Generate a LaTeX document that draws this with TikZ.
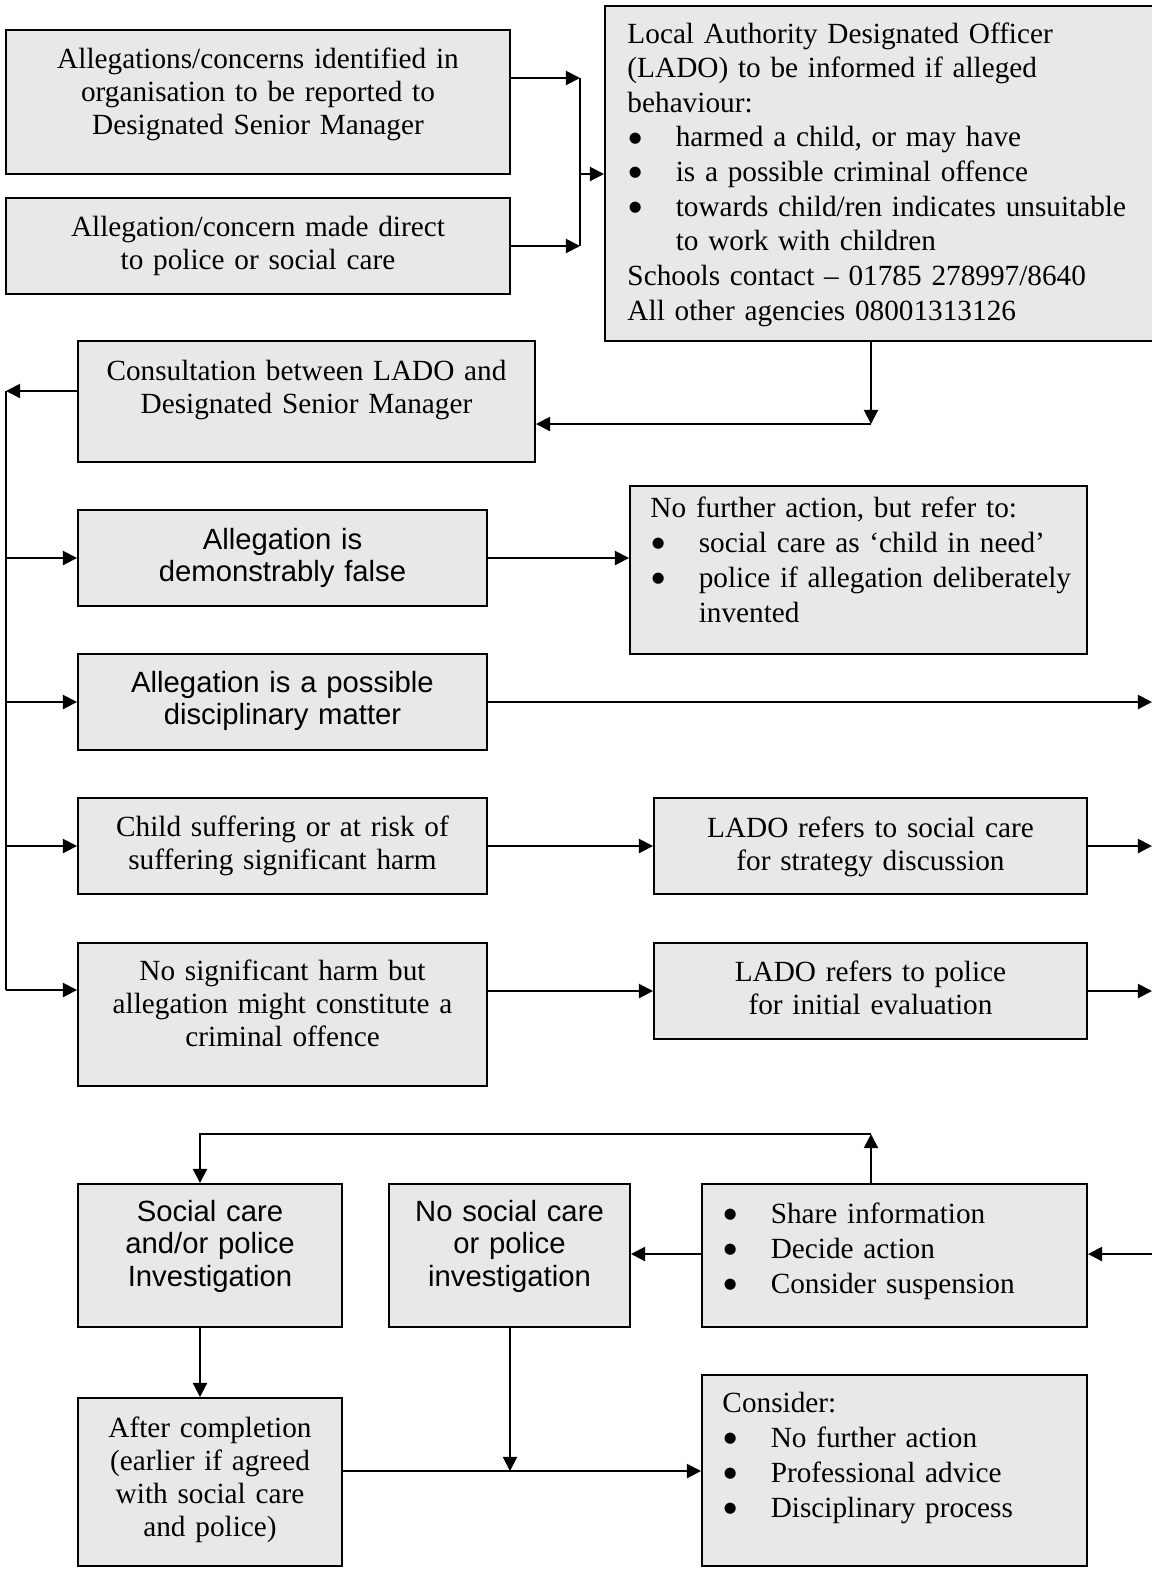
\documentclass[tikz,border=0pt]{standalone}
\usepackage{fontspec}
\setmainfont{Liberation Serif}
\setsansfont{Liberation Sans}
\newfontfamily\dejavu{DejaVu Sans}
\usetikzlibrary{arrows.meta,fit}
\definecolor{boxgray}{RGB}{232,232,232}
\newcommand\bul{\makebox[19.8pt][l]{\hspace*{0.6pt}\raisebox{1.9pt}{\dejavu\fontsize{6pt}{6pt}\selectfont ●}}}
\tikzset{
  box/.style={draw=black, fill=boxgray, line width=0.8pt, inner sep=0pt},
  arr/.style={-{Triangle[length=5.8pt,width=5.8pt]}, line width=0.8pt},
  ln/.style={line width=0.8pt},
  sertxt/.style={font=\fontsize{12pt}{13.6pt}\selectfont, inner sep=0pt, align=center, anchor=base, text width=180pt},
  santxt/.style={font=\sffamily\fontsize{12pt}{13.5pt}\selectfont, inner sep=0pt, align=center, anchor=base, text width=180pt},
  lsttxt/.style={font=\fontsize{12pt}{14.4pt}\selectfont, inner sep=0pt, align=left, anchor=base west, text width=215pt},
}
\begin{document}
\begin{tikzpicture}[x=0.41pt,y=-0.41pt]
\useasboundingbox (0,0) rectangle (1152,1573);
% boxes
\node[box, fit={(6,30)(510,174)}] (a1) {};
\node[box, fit={(6,198)(510,294)}] (a2) {};
\node[box, fit={(605,6)(1162,341)}] (lado) {};
\node[box, fit={(78,341)(535,462)}] (cons) {};
\node[box, fit={(78,510)(487,606)}] (false) {};
\node[box, fit={(630,486)(1087,654)}] (nfa) {};
\node[box, fit={(78,654)(487,750)}] (disc) {};
\node[box, fit={(78,798)(487,894)}] (child) {};
\node[box, fit={(654,798)(1087,894)}] (lsc) {};
\node[box, fit={(78,943)(487,1086)}] (nosig) {};
\node[box, fit={(654,943)(1087,1039)}] (lpol) {};
\node[box, fit={(78,1184)(342,1327)}] (social) {};
\node[box, fit={(389,1184)(630,1327)}] (nosoc) {};
\node[box, fit={(702,1184)(1087,1327)}] (share) {};
\node[box, fit={(78,1398)(342,1566)}] (after) {};
\node[box, fit={(702,1375)(1087,1566)}] (consider) {};
% texts
\node[sertxt] (ta1) at (258,68) {Allegations/concerns identified in\\organisation to be reported to\\Designated Senior Manager};
\node[sertxt] (ta2) at (258,236) {Allegation/concern made direct\\to police or social care};
\node[lsttxt, font=\fontsize{12pt}{14.2pt}\selectfont] (tlado) at (627,43) {Local Authority Designated Officer\\(LADO) to be informed if alleged\\behaviour:\\\bul harmed a child, or may have\\\bul is a possible criminal offence\\\bul towards child/ren indicates unsuitable\\\hspace*{19.8pt}to work with children\\Schools contact – 01785 278997/8640\\All other agencies 08001313126};
\node[sertxt] (tcons) at (306.5,380) {Consultation between LADO and\\Designated Senior Manager};
\node[santxt] (tfalse) at (282.5,549) {Allegation is\\demonstrably false};
\node[lsttxt] (tnfa) at (650,517) {No further action, but refer to:\\\bul social care as ‘child in need’\\\bul police if allegation deliberately\\\hspace*{19.8pt}invented};
\node[santxt] (tdisc) at (282.5,692) {Allegation is a possible\\disciplinary matter};
\node[sertxt] (tchild) at (282.5,836) {Child suffering or at risk of\\suffering significant harm};
\node[sertxt] (tlsc) at (870.5,837) {LADO refers to social care\\for strategy discussion};
\node[sertxt] (tnosig) at (282.5,980) {No significant harm but\\allegation might constitute a\\criminal offence};
\node[sertxt] (tlpol) at (870.5,981) {LADO refers to police\\for initial evaluation};
\node[santxt] (tsocial) at (210,1221) {Social care\\and/or police\\Investigation};
\node[santxt] (tnosoc) at (509.5,1221) {No social care\\or police\\investigation};
\node[lsttxt] (tshare) at (722,1223) {\bul Share information\\\bul Decide action\\\bul Consider suspension};
\node[sertxt] (tafter) at (210,1437) {After completion\\(earlier if agreed\\with social care\\and police)};
\node[lsttxt] (tconsider) at (722,1412) {Consider:\\\bul No further action\\\bul Professional advice\\\bul Disciplinary process};
% junction coordinates
\coordinate (jt) at (580,78);
\coordinate (jb) at (580,246);
\coordinate (jm) at (580,174);
\coordinate (jl) at (871,424);
\coordinate (bt) at (6,391);
\coordinate (bb) at (6,990);
\coordinate (r1) at (1152,702);
\coordinate (r2) at (1152,846);
\coordinate (r3) at (1152,991);
\coordinate (r4) at (1152,1254);
\coordinate (lp) at (871,1134);
\coordinate (ls) at (200,1134);
\coordinate (jc) at (510,1471);
% connectors
\draw[arr] (a1.east |- jt) -- (jt);
\draw[arr] (a2.east |- jb) -- (jb);
\draw[ln] (jt) -- (jb);
\draw[arr] (jm) -- (lado.west |- jm);
\draw[arr] (lado.south -| jl) -- (jl);
\draw[arr] (jl) -- (cons.east |- jl);
\draw[arr] (cons.west |- bt) -- (bt);
\draw[ln] (bt) -- (bb);
\draw[arr] (bt |- false.west) -- (false.west);
\draw[arr] (bt |- disc.west) -- (disc.west);
\draw[arr] (bt |- child.west) -- (child.west);
\draw[arr] (bb) -- (nosig.west |- bb);
\draw[arr] (false.east) -- (nfa.west |- false.east);
\draw[arr] (disc.east) -- (r1);
\draw[arr] (child.east) -- (lsc.west |- child.east);
\draw[arr] (lsc.east) -- (r2);
\draw[arr] (nosig.east |- lpol.west) -- (lpol.west);
\draw[arr] (lpol.east) -- (r3);
\draw[arr] (r4) -- (share.east |- r4);
\draw[arr] (share.west |- r4) -- (nosoc.east |- r4);
\draw[arr] (share.north -| lp) -- (lp);
\draw[arr] (lp) -- (ls) -- (social.north -| ls);
\draw[arr] (social.south -| ls) -- (after.north -| ls);
\draw[arr] (after.east |- jc) -- (consider.west |- jc);
\draw[arr] (nosoc.south -| jc) -- (jc);
\end{tikzpicture}
\end{document}
